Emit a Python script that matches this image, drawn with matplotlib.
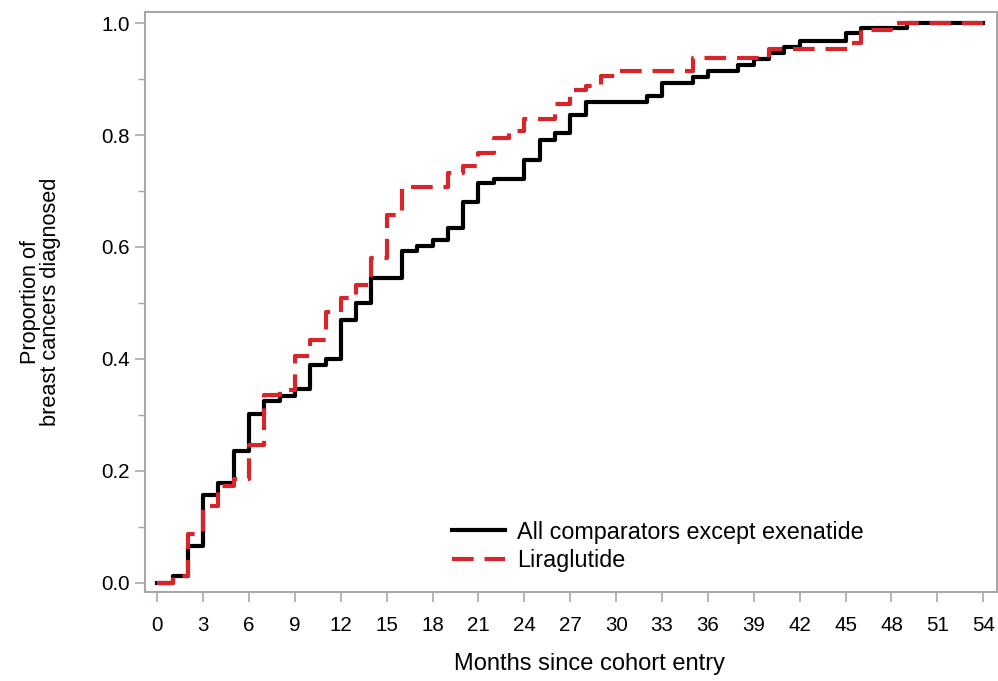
import numpy as np
import matplotlib
matplotlib.use("Agg")
import matplotlib.pyplot as plt
from matplotlib.ticker import MultipleLocator

plt.rcParams["font.family"] = ["Liberation Sans", "DejaVu Sans"]

# ── Data (step functions) ───────────────────────────────────────────

months_comp = [0, 1, 2, 3, 4, 5, 6, 7, 8, 9, 10, 11, 12, 13, 14, 16, 17, 18,
               19, 20, 21, 22, 24, 25, 26, 27, 28, 32, 33, 35, 36, 38, 39, 40,
               41, 42, 45, 46, 49, 54]
prop_comp = [0.0, 0.012, 0.066, 0.156, 0.178, 0.236, 0.302, 0.325, 0.334,
             0.346, 0.389, 0.399, 0.470, 0.500, 0.545, 0.592, 0.601, 0.613,
             0.634, 0.681, 0.714, 0.721, 0.756, 0.791, 0.803, 0.836, 0.859,
             0.869, 0.893, 0.903, 0.914, 0.925, 0.936, 0.947, 0.958, 0.969,
             0.982, 0.991, 1.0, 1.0]

months_lira = [0, 1, 2, 3, 4, 5, 6, 7, 8, 9, 10, 11, 12, 13, 14, 15, 16, 19,
               20, 21, 22, 23, 24, 26, 27, 28, 29, 30, 35, 40, 45.3, 46, 48, 54]
prop_lira = [0.0, 0.012, 0.087, 0.137, 0.172, 0.186, 0.246, 0.336, 0.345,
             0.405, 0.433, 0.484, 0.508, 0.532, 0.580, 0.657, 0.708, 0.732,
             0.744, 0.768, 0.794, 0.807, 0.829, 0.855, 0.880, 0.887, 0.906,
             0.915, 0.938, 0.953, 0.965, 0.988, 1.0, 1.0]

labels = ["All comparators except exenatide", "Liraglutide"]
x_ticks = np.arange(0, 55, 3)

RED = "#d7252b"
GREY = "#a8a8a8"

fig = plt.figure(figsize=(9.98, 6.81), dpi=100)
ax = fig.add_axes([0.1453, 0.1307, 0.8537, 0.8517])

ax.step(months_comp, prop_comp, where="post", color="black", linewidth=3.0,
        label=labels[0], zorder=2)
ax.step(months_lira, prop_lira, where="post", color=RED, linewidth=3.0,
        dashes=(5.2, 2.6), label=labels[1], zorder=3)

ax.set_xlim(-0.8, 54.9)
ax.set_ylim(-0.0166, 1.020)
ax.set_xticks(x_ticks)
ax.set_yticks([0.0, 0.2, 0.4, 0.6, 0.8, 1.0])
ax.set_yticklabels(["0.0", "0.2", "0.4", "0.6", "0.8", "1.0"])
ax.yaxis.set_minor_locator(MultipleLocator(0.1))

for s in ax.spines.values():
    s.set_color(GREY)
    s.set_linewidth(1.5)
ax.tick_params(axis="both", which="major", length=7, width=1.2, color=GREY,
               labelsize=14.8, pad=4)
ax.tick_params(axis="x", which="major", pad=10)
ax.tick_params(axis="y", which="minor", length=5, width=1.0, color=GREY)

ax.set_xlabel("Months since cohort entry", fontsize=17)
ax.xaxis.set_label_coords(0.522, -0.105)
ax.set_ylabel("Proportion of\nbreast cancers diagnosed", fontsize=15.7,
              labelpad=29, linespacing=0.92)

ax.legend(loc="center left", bbox_to_anchor=(0.360, 0.079), frameon=False,
          fontsize=16.8, borderaxespad=0, borderpad=0, handlelength=2.3,
          handletextpad=0.5, labelspacing=0.22)

fig.savefig("out.png", dpi=100)
